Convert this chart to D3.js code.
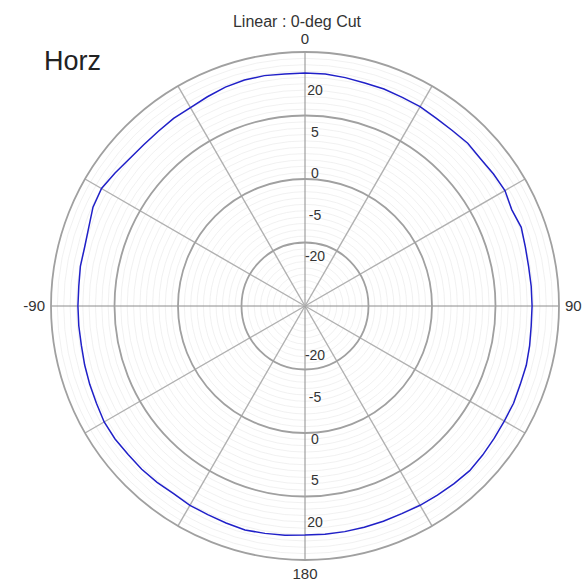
<!DOCTYPE html>
<html>
<head>
<meta charset="utf-8">
<script src="https://cdn.jsdelivr.net/npm/d3@7"></script>
<style>
  html, body { margin: 0; padding: 0; background: #fff; overflow: hidden; }
  svg { display: block; font-family: "Liberation Sans", Arial, sans-serif; }
</style>
</head>
<body>
<div id="chart"></div>
<script>
// pattern sampled every 5 deg, 0 = top, clockwise (linear, outer ring = 1)
const angles = d3.range(0, 360, 5);
const gain = [
  0.917, 0.917, 0.913, 0.909, 0.909, 0.906, 0.906, 0.902, 0.902, 0.906,
  0.902, 0.906, 0.909, 0.898, 0.906, 0.898, 0.894, 0.894, 0.894, 0.894,
  0.898, 0.902, 0.902, 0.906, 0.906, 0.909, 0.913, 0.917, 0.913, 0.909,
  0.906, 0.902, 0.902, 0.902, 0.902, 0.902, 0.902, 0.906, 0.909, 0.913,
  0.909, 0.906, 0.906, 0.902, 0.906, 0.909, 0.909, 0.913, 0.913, 0.906,
  0.902, 0.898, 0.894, 0.894, 0.894, 0.894, 0.898, 0.898, 0.906, 0.921,
  0.925, 0.913, 0.902, 0.898, 0.898, 0.902, 0.902, 0.909, 0.917, 0.921,
  0.921, 0.917
];
const ringValues = [0.25, 0.5, 0.75, 1];
const radialLabels = ["-20", "-5", "0", "5", "20"];
const angleLabels = [
  {deg: 0, text: "0"}, {deg: 90, text: "90"},
  {deg: 180, text: "180"}, {deg: 270, text: "-90"}
];
const spokes = d3.range(0, 360, 30);

const W = 582, H = 582;
const cx = 305, cy = 306, R = 254;

const svg = d3.select("#chart").append("svg")
    .attr("width", W)
    .attr("height", H);

const r = d3.scaleLinear().domain([0, 1]).range([0, R]);

const g = svg.append("g")
    .attr("transform", "translate(" + cx + "," + cy + ")");

// faint minor rings
g.selectAll("circle.minor")
  .data(d3.range(1, 40).map(d => d / 40))
  .enter().append("circle")
    .attr("class", "minor")
    .attr("r", d => r(d))
    .attr("fill", "none")
    .attr("stroke", "#e8e8e8")
    .attr("stroke-width", 0.6);

// spokes
g.selectAll("line.spoke")
  .data(spokes)
  .enter().append("line")
    .attr("class", "spoke")
    .attr("x1", 0).attr("y1", 0)
    .attr("x2", d => r(1) * Math.sin(d * Math.PI / 180))
    .attr("y2", d => -r(1) * Math.cos(d * Math.PI / 180))
    .attr("stroke", d => d % 90 === 0 ? "#8c8c8c" : "#b0b0b0")
    .attr("stroke-width", d => d % 90 === 0 ? 1 : 1.4);

// major rings
g.selectAll("circle.major")
  .data(ringValues)
  .enter().append("circle")
    .attr("class", "major")
    .attr("r", d => r(d))
    .attr("fill", "none")
    .attr("stroke", "#a0a0a0")
    .attr("stroke-width", 1.8);

// radial labels on both halves of the vertical axis
const labPos = d3.scaleLinear().domain([0, radialLabels.length - 1]).range([r(0.195), r(0.85)]);
[-1, 1].forEach(function(sgn) {
  g.selectAll(null)
    .data(radialLabels)
    .enter().append("text")
      .attr("x", 10)
      .attr("y", (d, i) => sgn * labPos(i))
      .attr("dy", "0.35em")
      .attr("text-anchor", "middle")
      .attr("font-size", 14)
      .attr("fill", "#333")
      .text(d => d);
});

// pattern trace
const line = d3.lineRadial()
    .angle((d, i) => angles[i] * Math.PI / 180)
    .radius(d => r(d))
    .curve(d3.curveLinearClosed);

g.append("path")
    .datum(gain)
    .attr("d", line)
    .attr("fill", "none")
    .attr("stroke", "#2020c8")
    .attr("stroke-width", 1.5);

// angle labels
g.selectAll("text.ang")
  .data(angleLabels)
  .enter().append("text")
    .attr("class", "ang")
    .attr("x", d => d.deg === 90 ? r(1) + 6 : d.deg === 270 ? -(r(1) + 6) : 0)
    .attr("y", d => d.deg === 0 ? -(r(1) + 13) : d.deg === 180 ? r(1) + 14 : 0)
    .attr("dy", "0.35em")
    .attr("text-anchor", d => d.deg === 90 ? "start" : d.deg === 270 ? "end" : "middle")
    .attr("font-size", 15)
    .attr("fill", "#333")
    .text(d => d.text);

svg.append("text")
    .attr("x", 297)
    .attr("y", 27)
    .attr("text-anchor", "middle")
    .attr("font-size", 16)
    .attr("fill", "#333")
    .text("Linear : 0-deg Cut");

svg.append("text")
    .attr("x", 44)
    .attr("y", 70)
    .attr("font-size", 27)
    .attr("fill", "#222")
    .text("Horz");
</script>
</body>
</html>
